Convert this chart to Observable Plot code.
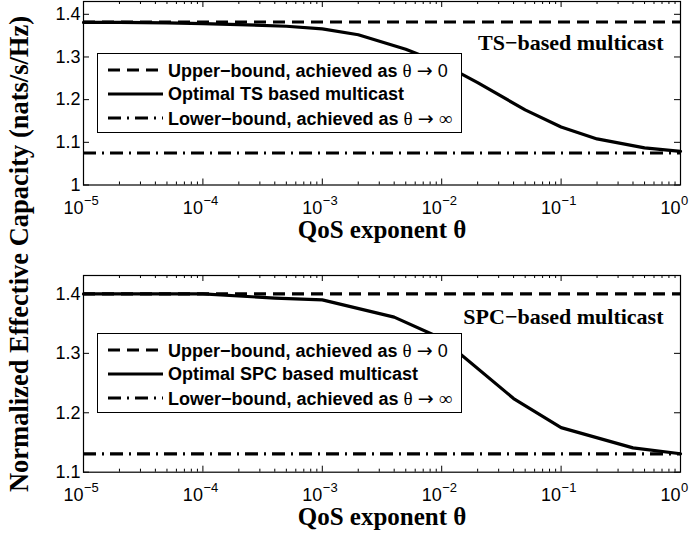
<!DOCTYPE html>
<html>
<head>
<meta charset="utf-8">
<script src="https://cdn.jsdelivr.net/npm/d3@7"></script>
<script src="https://cdn.jsdelivr.net/npm/@observablehq/plot@0.6"></script>
<style>
  html, body { margin: 0; padding: 0; background: #fff; }
  #figure { position: relative; width: 693px; height: 535px; overflow: hidden; background: #fff; }
  #figure > svg.panel { position: absolute; left: 0; }
  .legend {
    position: absolute; left: 97px; width: 365px; height: 80px;
    box-sizing: border-box; border: 1px solid #000; background: #fff;
    font: bold 18px "Liberation Sans", Arial, sans-serif; color: #000;
  }
  .legend .row { position: absolute; left: 0; height: 24px; display: flex; align-items: center; white-space: nowrap; }
  .legend .row svg { margin-left: 10px; }
  .legend .row span.label { margin-left: 5px; }
  .legend .tail { font-weight: normal; }
  .legend .sym { font-family: "Liberation Serif", "Times New Roman", serif; font-size: 19px; }
  .legend .arrow { font-family: "DejaVu Sans", sans-serif; font-size: 19px; }
  #ylabel { position: absolute; left: 0; top: 0; pointer-events: none; }
</style>
</head>
<body>
<div id="figure"></div>
<script>
// QoS exponent values (x) and normalized effective capacity (y), nats/s/Hz
const thetaTS = [1e-5, 2e-5, 5e-5, 1e-4, 2e-4, 5e-4, 1e-3, 2e-3, 5e-3, 1e-2, 2e-2, 5e-2, 0.1, 0.2, 0.5, 1];
const capacityTS = [1.381, 1.381, 1.380, 1.378, 1.376, 1.372, 1.366, 1.352, 1.318, 1.285, 1.240, 1.176, 1.136, 1.108, 1.087, 1.079];
const upperTS = 1.382;
const lowerTS = 1.075;

const thetaSPC = [1e-5, 4e-5, 1e-4, 4e-4, 1e-3, 4e-3, 1e-2, 4e-2, 0.1, 0.4, 1];
const capacitySPC = [1.400, 1.400, 1.400, 1.393, 1.390, 1.361, 1.325, 1.224, 1.175, 1.141, 1.131];
const upperSPC = 1.400;
const lowerSPC = 1.131;

// Axis ticks and labels
const decades = [1e-5, 1e-4, 1e-3, 1e-2, 1e-1, 1];
const decadeExponents = ["\u22125", "\u22124", "\u22123", "\u22122", "\u22121", "0"];
const yTicksTS = [1, 1.1, 1.2, 1.3, 1.4];
const yTicksSPC = [1.1, 1.2, 1.3, 1.4];
const xLabel = "QoS exponent \u03b8";
const yLabel = "Normalized Effective Capacity (nats/s/Hz)";
const noteTS = "TS\u2212based multicast";
const noteSPC = "SPC\u2212based multicast";
const legendTS = [
  {text: "Upper\u2212bound, achieved as", limit: "0", style: "dashed"},
  {text: "Optimal TS based multicast", limit: null, style: "solid"},
  {text: "Lower\u2212bound, achieved as", limit: "\u221e", style: "dashdot"}
];
const legendSPC = [
  {text: "Upper\u2212bound, achieved as", limit: "0", style: "dashed"},
  {text: "Optimal SPC based multicast", limit: null, style: "solid"},
  {text: "Lower\u2212bound, achieved as", limit: "\u221e", style: "dashdot"}
];

const dashes = {dashed: "12,7", solid: null, dashdot: "13,6,2,6"};
const LINE_W = 3.2;
const SANS = "'Liberation Sans', Arial, Helvetica, sans-serif";
const SERIF = "'Liberation Serif', 'Times New Roman', Times, serif";

const figure = document.getElementById("figure");
const xDomain = [1e-5, 1];
const minorTicks = d3.scaleLog().domain(xDomain).ticks()
  .filter(t => Math.abs(Math.log10(t) - Math.round(Math.log10(t))) > 1e-6);

function panel({theta, capacity, upper, lower, yDomain, yTicks, note, top, height, marginTop, marginBottom}) {
  const width = 693, marginLeft = 83, marginRight = 13;
  const plotW = width - marginLeft - marginRight;
  const plotH = height - marginTop - marginBottom;
  const rows = theta.map((t, i) => ({theta: t, capacity: capacity[i]}));

  const svg = Plot.plot({
    width, height, marginLeft, marginRight, marginTop, marginBottom,
    style: {background: "transparent", fontFamily: SANS, color: "#000", overflow: "visible"},
    x: {type: "log", domain: xDomain, axis: null},
    y: {domain: yDomain},
    marks: [
      Plot.ruleY([upper], {stroke: "#000", strokeWidth: LINE_W, strokeDasharray: dashes.dashed}),
      Plot.ruleY([lower], {stroke: "#000", strokeWidth: LINE_W, strokeDasharray: dashes.dashdot}),
      Plot.line(rows, {x: "theta", y: "capacity", stroke: "#000", strokeWidth: LINE_W, strokeLinejoin: "round"}),
      // inward ticks on all four sides
      Plot.tickX(decades, {x: d => d, insetTop: plotH - 6, stroke: "#000"}),
      Plot.tickX(decades, {x: d => d, insetBottom: plotH - 6, stroke: "#000"}),
      Plot.tickX(minorTicks, {x: d => d, insetTop: plotH - 3, stroke: "#000"}),
      Plot.tickX(minorTicks, {x: d => d, insetBottom: plotH - 3, stroke: "#000"}),
      Plot.tickY(yTicks, {y: d => d, insetRight: plotW - 6, stroke: "#000"}),
      Plot.tickY(yTicks, {y: d => d, insetLeft: plotW - 6, stroke: "#000"}),
      Plot.frame({stroke: "#000", strokeWidth: 1.2}),
      Plot.axisY(yTicks, {tickSize: 0, tickPadding: 3, fontSize: 18, label: null, tickFormat: d => `${d}`}),
      // decade labels 10^k
      Plot.text(decades, {x: d => d, text: () => "10", frameAnchor: "bottom", dy: 28.5,
        textAnchor: "end", lineAnchor: "bottom", fontSize: 18}),
      Plot.text(decades, {x: d => d, text: (d, i) => decadeExponents[i], frameAnchor: "bottom", dy: 19.5,
        dx: 0.5, textAnchor: "start", lineAnchor: "bottom", fontSize: 13}),
      Plot.text([xLabel], {frameAnchor: "bottom", dy: 53, lineAnchor: "bottom",
        fontSize: 25, fontWeight: "bold", fontFamily: SERIF}),
      Plot.text([note], {frameAnchor: "top-right", dx: -17, dy: 48, textAnchor: "end", lineAnchor: "bottom",
        fontSize: 22, fontWeight: "bold", fontFamily: SERIF})
    ]
  });
  svg.classList.add("panel");
  svg.style.top = top + "px";
  figure.appendChild(svg);
}

function legend(top, entries) {
  const box = document.createElement("div");
  box.className = "legend";
  box.style.top = top + "px";
  const centers = [16, 40, 64];
  entries.forEach((e, i) => {
    const row = document.createElement("div");
    row.className = "row";
    row.style.top = (centers[i] - 12) + "px";
    const dash = dashes[e.style];
    const limit = e.limit === null ? "" :
      ` <span class="tail"><span class="sym">\u03b8</span> <span class="arrow">\u2192</span> ` +
      `<span class="${e.limit === "0" ? "" : "sym"}">${e.limit}</span></span>`;
    row.innerHTML =
      `<svg width="55" height="6"><line x1="0" x2="55" y1="3" y2="3" stroke="#000" stroke-width="${LINE_W}"` +
      (dash ? ` stroke-dasharray="${dash}"` : "") + `/></svg>` +
      `<span class="label">${e.text}${limit}</span>`;
    box.appendChild(row);
  });
  figure.appendChild(box);
}

panel({theta: thetaTS, capacity: capacityTS, upper: upperTS, lower: lowerTS,
  yDomain: [1, 1.43], yTicks: yTicksTS, note: noteTS,
  top: 0, height: 245, marginTop: 1, marginBottom: 60.5});
panel({theta: thetaSPC, capacity: capacitySPC, upper: upperSPC, lower: lowerSPC,
  yDomain: [1.1, 1.431], yTicks: yTicksSPC, note: noteSPC,
  top: 245, height: 290, marginTop: 30, marginBottom: 63.3});

legend(53, legendTS);
legend(333, legendSPC);

// shared y-axis title
const ns = "http://www.w3.org/2000/svg";
const ysvg = document.createElementNS(ns, "svg");
ysvg.setAttribute("id", "ylabel");
ysvg.setAttribute("width", 60);
ysvg.setAttribute("height", 535);
const yt = document.createElementNS(ns, "text");
yt.setAttribute("transform", "translate(28,254) rotate(-90)");
yt.setAttribute("text-anchor", "middle");
yt.setAttribute("font-family", SERIF);
yt.setAttribute("font-weight", "bold");
yt.setAttribute("font-size", 26.5);
yt.textContent = yLabel;
ysvg.appendChild(yt);
figure.appendChild(ysvg);
</script>
</body>
</html>
